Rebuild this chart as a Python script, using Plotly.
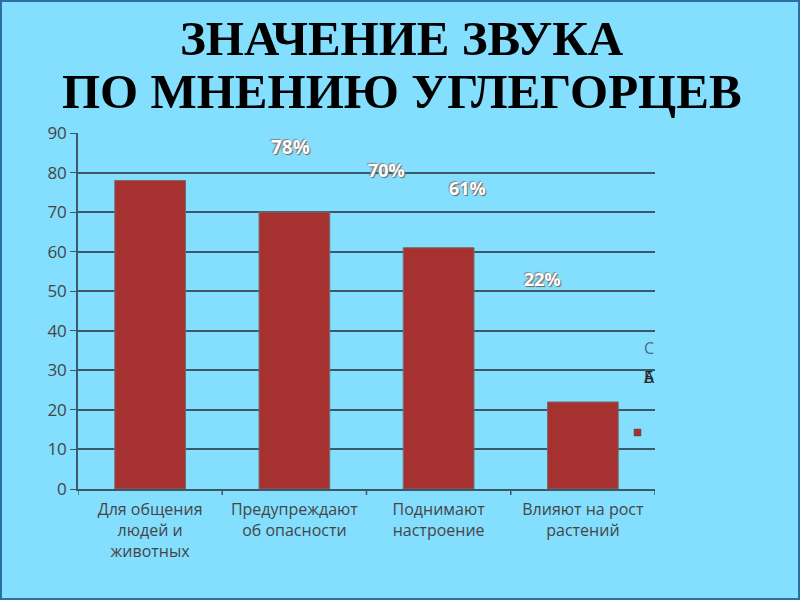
import plotly.graph_objects as go

# данные опроса
categories = ["Для общения<br>людей и<br>животных", "Предупреждают<br>об опасности",
              "Поднимают<br>настроение", "Влияют на рост<br>растений"]
values = [78, 70, 61, 22]
labels = ["78%", "70%", "61%", "22%"]
y_ticks = [0, 10, 20, 30, 40, 50, 60, 70, 80, 90]
title_lines = ["ЗНАЧЕНИЕ ЗВУКА", "ПО МНЕНИЮ УГЛЕГОРЦЕВ"]

# сдвиг подписей (как на слайде, они съехали вправо и вверх)
label_x = [0.97, 1.64, 2.2, 2.72]
label_dy = [8.5, 10.7, 15.0, 31.0]
label_size = [19, 18, 18, 18]

bg = "#84DEFE"
bar_color = "#A53131"
axis_color = "#3a5a6a"

# размеры области построения в пикселях
L, R, T, B = 78, 145, 133, 111
PW, PH = 800 - L - R, 600 - T - B


def px(x, y):
    """пиксели слайда -> координаты paper"""
    return (x - L) / PW, (600 - B - y) / PH


fig = go.Figure()

fig.add_trace(go.Bar(
    x=list(range(len(categories))),
    y=values,
    width=0.49,
    marker=dict(color=bar_color, line=dict(color="#7a6a6a", width=1)),
    showlegend=False,
    hoverinfo="skip",
))

for i, (v, t) in enumerate(zip(values, labels)):
    fig.add_annotation(
        x=label_x[i], y=v + label_dy[i], text=t, showarrow=False,
        font=dict(family="Open Sans", size=label_size[i], color="white", weight="bold",
                  shadow="1px 1px 1px #666, -1px -1px 1px #888"),
    )

# заголовок слайда, две строки
for line, ypx in zip(title_lines, [39, 91]):
    tx, ty = px(402, ypx)
    fig.add_annotation(
        x=tx, y=ty, xref="paper", yref="paper", xanchor="center", yanchor="middle",
        text=line, showarrow=False,
        font=dict(family="Liberation Serif", size=49, color="black", weight="bold"),
    )

# обрезанная легенда справа
for txt, ypx, col in [("С", 348, "#4a6a80"), ("Б", 377, "#222"), ("А", 377, "#222")]:
    ax, ay = px(649, ypx)
    fig.add_annotation(
        x=ax, y=ay, xref="paper", yref="paper", xanchor="center", yanchor="middle",
        text=txt, showarrow=False,
        font=dict(family="Open Sans", size=16, color=col),
    )
x0, y0 = px(634, 436)
x1, y1 = px(641, 429)
fig.add_shape(type="rect", xref="paper", yref="paper", x0=x0, x1=x1, y0=y0, y1=y1,
              fillcolor=bar_color, line=dict(color="#555", width=0.5))

# рамка слайда
x0, y0 = px(0, 600)
x1, y1 = px(800, 0)
fig.add_shape(type="rect", xref="paper", yref="paper", x0=x0, x1=x1, y0=y0, y1=y1,
              line=dict(color="#2F6EA5", width=4), fillcolor="rgba(0,0,0,0)")

# засечки между категориями
for b in [-0.5, 0.5, 1.5, 2.5, 3.5]:
    fig.add_shape(type="line", xref="x", yref="paper", x0=b, x1=b, y0=0, y1=-6 / PH,
                  line=dict(color=axis_color, width=1.5))

fig.update_xaxes(
    tickmode="array", tickvals=list(range(len(categories))), ticktext=categories,
    range=[-0.5, 3.5], showline=True, linecolor=axis_color, linewidth=1.5,
    ticks="", showgrid=False, ticklabelstandoff=5,
    tickfont=dict(family="Open Sans", size=16, color="#454545"),
)
fig.update_yaxes(
    range=[0, 90], tickvals=y_ticks, showline=True, linecolor=axis_color, linewidth=1.5,
    ticks="outside", ticklen=6, tickcolor=axis_color,
    gridcolor=axis_color, gridwidth=1.5, zeroline=False,
    tickfont=dict(family="Open Sans", size=17, color="#454545"),
)

fig.update_layout(
    width=800, height=600,
    margin=dict(l=L, r=R, t=T, b=B),
    paper_bgcolor=bg, plot_bgcolor=bg,
)

fig.write_html("out.html", config={"displayModeBar": False},
               post_script="document.body.style.margin='0';")
